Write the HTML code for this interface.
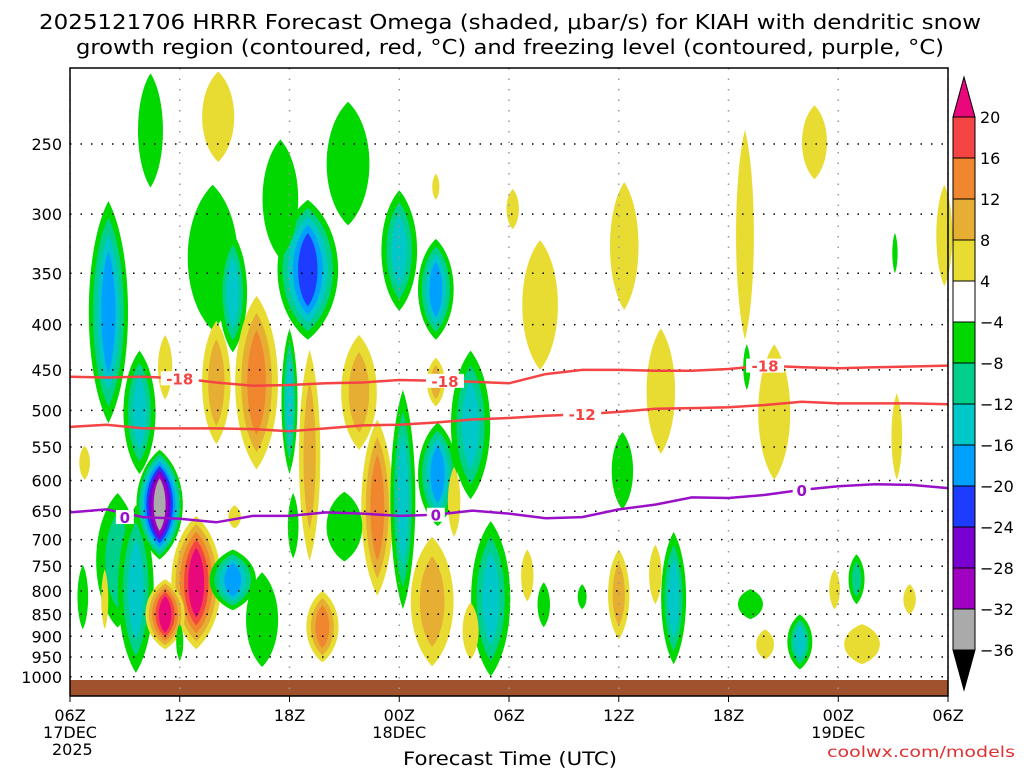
<!DOCTYPE html>
<html><head><meta charset="utf-8"><style>
html,body{margin:0;padding:0;background:#fff;}
svg{display:block;font-family:"DejaVu Sans","Liberation Sans",sans-serif;}
</style></head><body>
<svg id="chart" width="1024" height="768" viewBox="0 0 1024 768" xmlns="http://www.w3.org/2000/svg">
<text x="510" y="29" text-anchor="middle" font-size="20" fill="#000" textLength="942" lengthAdjust="spacingAndGlyphs">2025121706 HRRR Forecast Omega (shaded, μbar/s) for KIAH with dendritic snow</text>
<text x="510" y="54" text-anchor="middle" font-size="20" fill="#000" textLength="868" lengthAdjust="spacingAndGlyphs">growth region (contoured, red, °C) and freezing level (contoured, purple, °C)</text>
<g id="plot"></g>
<text x="510" y="765" text-anchor="middle" font-size="19" fill="#000" textLength="214" lengthAdjust="spacingAndGlyphs">Forecast Time (UTC)</text>
<text x="1015" y="757" text-anchor="end" font-size="15" fill="#e03030" textLength="188" lengthAdjust="spacingAndGlyphs">coolwx.com/models</text>
</svg>
<script>
// ---- data ----
const pressureTicks = [250,300,350,400,450,500,550,600,650,700,750,800,850,900,950,1000];
const timeTickHours = [0,6,12,18,24,30,36,42,48];
const timeTickLabels = ["06Z","12Z","18Z","00Z","06Z","12Z","18Z","00Z","06Z"];
const dateLabels = [[0,"17DEC"],[0,"2025"],[18,"18DEC"],[42,"19DEC"]];
const cbLevels = [20,16,12,8,4,-4,-8,-12,-16,-20,-24,-28,-32,-36];
const cbColors = ["#f44444","#f0862e","#e6ae32","#e8dc32","#ffffff","#00d800","#00d08c","#00c8c8","#00a0ff","#1e3cff","#7800d0","#a000c0","#aaaaaa"];
const posColors = ["#e8dc32","#e6ae32","#f0862e","#f44444","#e8087c"];
const negColors = ["#00d800","#00d08c","#00c8c8","#00a0ff","#1e3cff","#7800d0","#a000c0","#aaaaaa","#000000"];
const lineHours = [0,2,4,6,8,10,12,14,16,18,20,22,24,26,28,30,32,34,36,38,40,42,44,46,48];
const minus18P = [458,459,458,460,465,469,468,466,465,462,463,464,466,455,450,450,451,451,449,445,447,448,447,446,445];
const minus12P = [522,519,524,524,524,525,528,524,520,519,516,512,510,507,505,502,498,497,496,493,489,491,491,491,492];
const zeroP = [652,647,660,663,669,658,658,652,654,658,656,649,654,662,660,647,639,627,628,623,615,609,606,607,612];
// blobs: hour, top pressure, bottom pressure, half width (hours), peak omega
const blobHour = [4.4,8.1,7.8,8.9,8.0,5.2,10.2,2.1,3.8,13,11.5,15.2,12,13.1,16.8,15.8,18,20,20,21.9,18.2,20.1,15,19.8,23,13.8,21,21.9,25.9,25,10.5,
 2.6,3.6,4.9,6.9,5.2,8.9,25.7,24.2,20,30.3,32.3,30.2,30,33,32,36.9,38.5,37,40.7,37.2,38,39.9,43,41.8,43.3,45.9,45.2,47.8,45.1,28,0.7,0.8,1.9,6,9,12.2];
const blobPTop = [208,207,278,315,396,411,371,290,428,289,247,224,404,427,512,411,282,320,436,428,474,516,618,695,667,800,579,824,782,718,762,
 620,640,554,658,776,718,321,281,270,276,404,529,718,686,709,241,421,421,226,796,884,850,727,756,872,786,478,278,315,786,747,548,756,870,640,620];
const blobPBot = [280,262,406,430,546,486,583,517,590,416,337,309,590,740,810,554,386,416,495,630,839,676,741,973,999,963,695,956,879,822,975,
 880,990,737,931,931,841,450,312,289,385,560,647,907,968,828,416,599,474,274,861,956,981,828,839,968,850,599,362,350,839,884,599,884,960,680,735];
const blobHalfW = [0.7,0.9,1.4,0.8,0.8,0.4,1.2,1.1,0.9,1.7,1.0,1.2,0.45,0.6,0.9,1.0,1.0,1.0,0.5,1.1,0.7,1.1,1.0,1.2,1.1,0.9,0.35,0.45,0.35,0.35,0.9,
 1.2,1.0,1.3,1.4,1.1,1.3,1.0,0.35,0.2,0.8,0.8,0.6,0.6,0.7,0.35,0.5,0.9,0.2,0.7,0.7,0.5,0.7,0.45,0.3,1.0,0.35,0.3,0.45,0.15,0.25,0.3,0.3,0.2,0.2,0.35,0.3];
const blobPeak = [-6,6,-7,-14,11,5,14,-17,-13,-22,-6,-6,-13,10,15,11,-12,-19,9,-15,-13,-19,-6,10,-13,14,5,5,-6,5,-7,
 -9,-14,-34,22,21,-17,6,5,5,6,7,-7,9,-14,5,5,7,-5,5,-6,5,-13,-10,5,5,5,5,5,-5,-6,-6,5,5,-5,5,-6];

// ---- scales ----
const X0=70, X1=948, Y0=68, Y1=696;
const X = h => X0 + h*(X1-X0)/48;
const Y = p => 144 + 384.3*(Math.log(p)-Math.log(250));
const NS="http://www.w3.org/2000/svg";
const plot=document.getElementById('plot');
function mk(tag, attrs, parent){const e=document.createElementNS(NS,tag);for(const k in attrs)e.setAttribute(k,attrs[k]);(parent||plot).appendChild(e);return e;}
function lens(cx,cy,rx,ry){
  const t=cy-ry,b=cy+ry,k=1.3;
  return `M${cx},${t} C${cx+rx*k},${cy-ry*0.55} ${cx+rx*k},${cy+ry*0.55} ${cx},${b} C${cx-rx*k},${cy+ry*0.55} ${cx-rx*k},${cy-ry*0.55} ${cx},${t} Z`;
}

// blobs
const blobG=mk('g',{});


for(let i=0;i<blobHour.length;i++){
  const v=blobPeak[i], pos=v>0, a=Math.abs(v);
  const n=Math.max(1,Math.min(pos?5:9, Math.floor(a/4)));
  const cx=X(blobHour[i]), yt=Y(blobPTop[i]), yb=Y(blobPBot[i]);
  const cy=(yt+yb)/2, ry=(yb-yt)/2, rx=blobHalfW[i]*(X1-X0)/48;
  for(let k=0;k<n;k++){
    const s=1-0.85*k/n;
    const e=mk('path',{d:lens(cx,cy,rx*s,ry*(0.3+0.7*s)),fill:(pos?posColors:negColors)[k]},blobG);
    
    
  }
}
// ground
const g=mk('rect',{x:X0,y:680,width:X1-X0,height:Y1-680,fill:'#a0522d'});


// grid
pressureTicks.forEach(p=>{
  const l=mk('line',{x1:X0,x2:X1,y1:Y(p),y2:Y(p),stroke:'#000','stroke-width':1.5,'stroke-dasharray':'1.5 9'});
  
  
  const t=mk('text',{x:62,y:Y(p)+6,'text-anchor':'end','font-size':16,fill:'#000'});
  t.textContent=p;
  
  
});
timeTickHours.forEach((h,i)=>{
  const l=mk('line',{x1:X(h),x2:X(h),y1:Y0,y2:Y1,stroke:'#999','stroke-width':1.5,'stroke-dasharray':'1.5 9'});
  
  
  const tk=mk('line',{x1:X(h),x2:X(h),y1:Y1,y2:Y1+6,stroke:'#000','stroke-width':1});
  
  
  const t=mk('text',{x:X(h),y:721,'text-anchor':'middle','font-size':16,fill:'#000'});
  t.textContent=timeTickLabels[i];
  
  
});
dateLabels.forEach((d,i)=>{
  const isYear=d[1]==="2025";
  const t=mk('text',{x:isYear?X(d[0])-18:X(d[0]),y:isYear?755:738,'text-anchor':isYear?'start':'middle','font-size':16,fill:'#000'});
  t.textContent=d[1];
  
  
});
// contour lines
function contour(arr,color,name,labels,txt){
  const d=arr.map((p,i)=>(i?'L':'M')+X(lineHours[i]).toFixed(1)+','+Y(p).toFixed(1)).join(' ');
  const path=mk('path',{d:d,fill:'none',stroke:color,'stroke-width':2.5});
  
  
  labels.forEach(h=>{
    const j=Math.round(h/2), y=Y(arr[j]);
    const bg=mk('rect',{x:X(h)-(txt.length*5+4),y:y-7,width:txt.length*10+8,height:14,fill:'#fff'});
    
    
    const t=mk('text',{x:X(h),y:y+6,'text-anchor':'middle','font-size':15,'font-weight':'bold',fill:color});
    t.textContent=txt;
    
    
  });
}
contour(minus18P,'#f44444','dgz-minus18-line',[6,20.5,38],'-18');
contour(minus12P,'#f44444','dgz-minus12-line',[28],'-12');
contour(zeroP,'#9a10c8','freezing-level-line',[3,20,40],'0');
// frame
const fr=mk('rect',{x:X0,y:Y0,width:X1-X0,height:Y1-Y0,fill:'none',stroke:'#000','stroke-width':1.5});


// colorbar
const cb=mk('g',{});


const cbY=[117,158,199,240,281,322,363,404,445,486,527,568,609,650];
for(let i=0;i<cbColors.length;i++){
  const r=mk('rect',{x:953,y:cbY[i],width:22,height:cbY[i+1]-cbY[i],fill:cbColors[i],stroke:'#000','stroke-width':1},cb);
  
  
}
const tt=mk('polygon',{points:'953,117 975,117 964,77',fill:'#e8087c',stroke:'#000'},cb);


const tb=mk('polygon',{points:'953,650 975,650 964,690',fill:'#000',stroke:'#000'},cb);


cbLevels.forEach((l,i)=>{
  const t=mk('text',{x:980,y:cbY[i]+6,'font-size':16,fill:'#000'},cb);
  t.textContent=l<0?'−'+(-l):l;
  
  
});
</script>
</body></html>
